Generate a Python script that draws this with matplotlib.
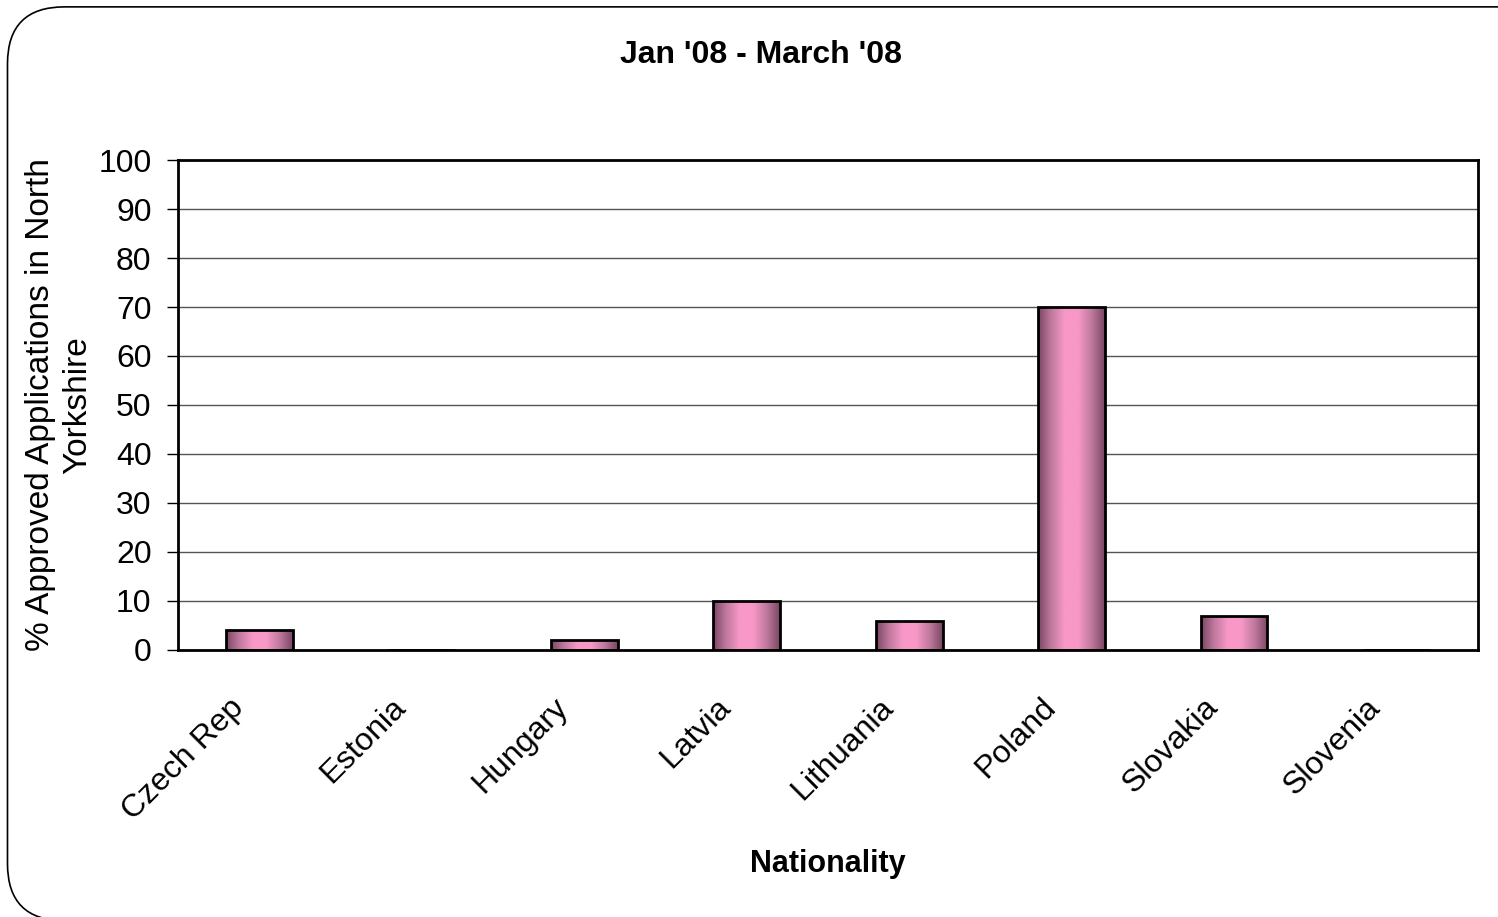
import numpy as np
import matplotlib
matplotlib.use('Agg')
import matplotlib.pyplot as plt
import matplotlib.transforms as mtransforms
from matplotlib.colors import LinearSegmentedColormap
from matplotlib.patches import FancyBboxPatch

countries = ['Czech Rep', 'Estonia', 'Hungary', 'Latvia', 'Lithuania', 'Poland', 'Slovakia', 'Slovenia']
percent = [4, 0, 2, 10, 6, 70, 7, 0]

plt.rcParams['font.family'] = ['Liberation Sans', 'DejaVu Sans']

fig = plt.figure(figsize=(14.98, 9.17), dpi=100)
ax = fig.add_axes([0.1188, 0.2912, 0.8678, 0.5343])

# rounded frame around the chart
frame = FancyBboxPatch((0.005, -0.004), 1.2, 0.9965, boxstyle='round,pad=0,rounding_size=0.038',
                       transform=fig.transFigure, facecolor='none', edgecolor='black',
                       linewidth=1.2, mutation_aspect=1498 / 917)
fig.patches.append(frame)

x = np.arange(len(countries))
bar_w = 0.41
bars = ax.bar(x, percent, bar_w, color='none', edgecolor='black', linewidth=2, zorder=3)

# pink cylinder-like gradient inside each bar
cmap = LinearSegmentedColormap.from_list('pinkbar', ['#7a4563', '#c07a9e', '#f898c8', '#f898c8', '#c07a9e', '#7a4563'])
grad = np.linspace(0, 1, 256).reshape(1, -1)
for b in bars:
    h = b.get_height()
    if h <= 0:
        continue
    x0 = b.get_x()
    im = ax.imshow(grad, cmap=cmap, aspect='auto', extent=(x0, x0 + bar_w, 0, h), zorder=2)
    im.set_clip_path(b)

ax.set_xlim(-0.5, len(countries) - 0.5)
ax.set_ylim(0, 100)
ax.set_yticks(range(0, 101, 10))
ax.yaxis.grid(True, color='#555555', linewidth=1)
ax.set_axisbelow(True)
ax.tick_params(axis='y', labelsize=23, length=8, width=1, pad=11)
ax.tick_params(axis='x', length=0, labelsize=23, pad=14)
ax.set_xticks(x)
ax.set_xticklabels(countries, rotation=45, ha='right', rotation_mode='anchor')
shift = mtransforms.ScaledTranslation(-31 / 100, -23 / 100, fig.dpi_scale_trans)
for lab in ax.get_xticklabels():
    lab.set_transform(lab.get_transform() + shift)
for s in ax.spines.values():
    s.set_linewidth(2)

ax.set_ylabel('% Approved Applications in North\nYorkshire', fontsize=24, labelpad=4, linespacing=1.25)
ax.set_xlabel('Nationality', fontsize=22, fontweight='bold', labelpad=17)
fig.text(0.508, 0.940, "Jan '08 - March '08", fontsize=23, fontweight='bold', ha='center', va='center')

fig.savefig('out.png', dpi=100)
